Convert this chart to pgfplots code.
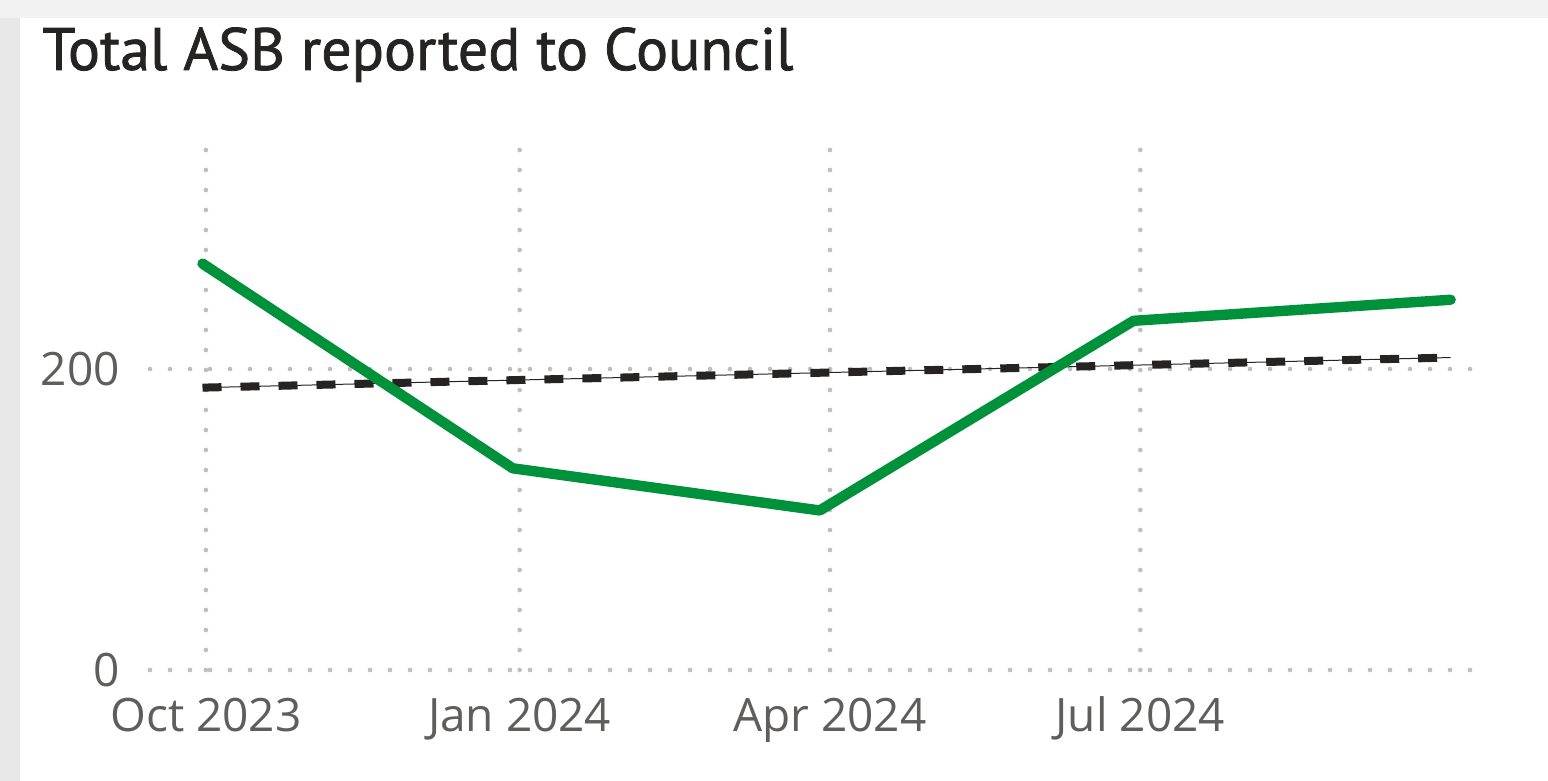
\documentclass[border=0pt]{standalone}
\usepackage{pgfplots}
\pgfplotsset{compat=1.18}
\usepackage{fontspec}
\setmainfont{Open Sans}
\newfontfamily\titlefont[FakeBold=1.3]{PT Sans}
\definecolor{bpgreen}{RGB}{0,146,58}
\definecolor{trendc}{RGB}{37,36,35}
\definecolor{labc}{RGB}{96,94,92}
\definecolor{gridc}{RGB}{190,190,190}
\begin{document}
\begin{tikzpicture}[x=1pt,y=1pt]
\fill[black!5] (0,0) rectangle (774,390.5);
\fill[black!9] (0,0) rectangle (10,381.5);
\fill[white] (10,0) rectangle (774,381.5);
\node[anchor=base west, inner sep=0, font=\titlefont\fontsize{29.9}{34}\selectfont, text=trendc] at (21,355.5) {Total ASB reported to Council};
\begin{axis}[
  at={(75pt,55.5pt)}, anchor=south west,
  width=666pt, height=260pt, scale only axis,
  xmin=-16.4, xmax=374.2, ymin=0, ymax=345.5,
  xtick={0,92,183,274},
  xticklabels={Oct 2023,Jan 2024,Apr 2024,Jul 2024},
  ytick={0,200},
  /pgf/number format/assume math mode=true,
  axis line style={draw=none},
  major tick length=0pt,
  xmajorgrids, ymajorgrids,
  grid style={gridc, line width=2.3pt, line cap=round, dash pattern=on 0pt off 10pt},
  tick label style={text=labc, font=\fontsize{23}{28}\selectfont},
  yticklabel style={anchor=east, inner sep=0pt, xshift=-15pt},
  xticklabel style={anchor=base, inner sep=0pt, yshift=-31pt},
  clip=false,
]
\addplot[trendc, line width=0.5pt] coordinates {(-1,187.6) (365,207.6)};
\addplot[trendc, line width=4pt, dash pattern=on 9.5pt off 9.5pt] coordinates {(-1,187.6) (365,207.6)};
\addplot[bpgreen, line width=5.2pt, line cap=round, line join=round] coordinates {
  (-1,270) (90,134) (180,106) (272,232) (365,246)};
\end{axis}
\end{tikzpicture}
\end{document}
